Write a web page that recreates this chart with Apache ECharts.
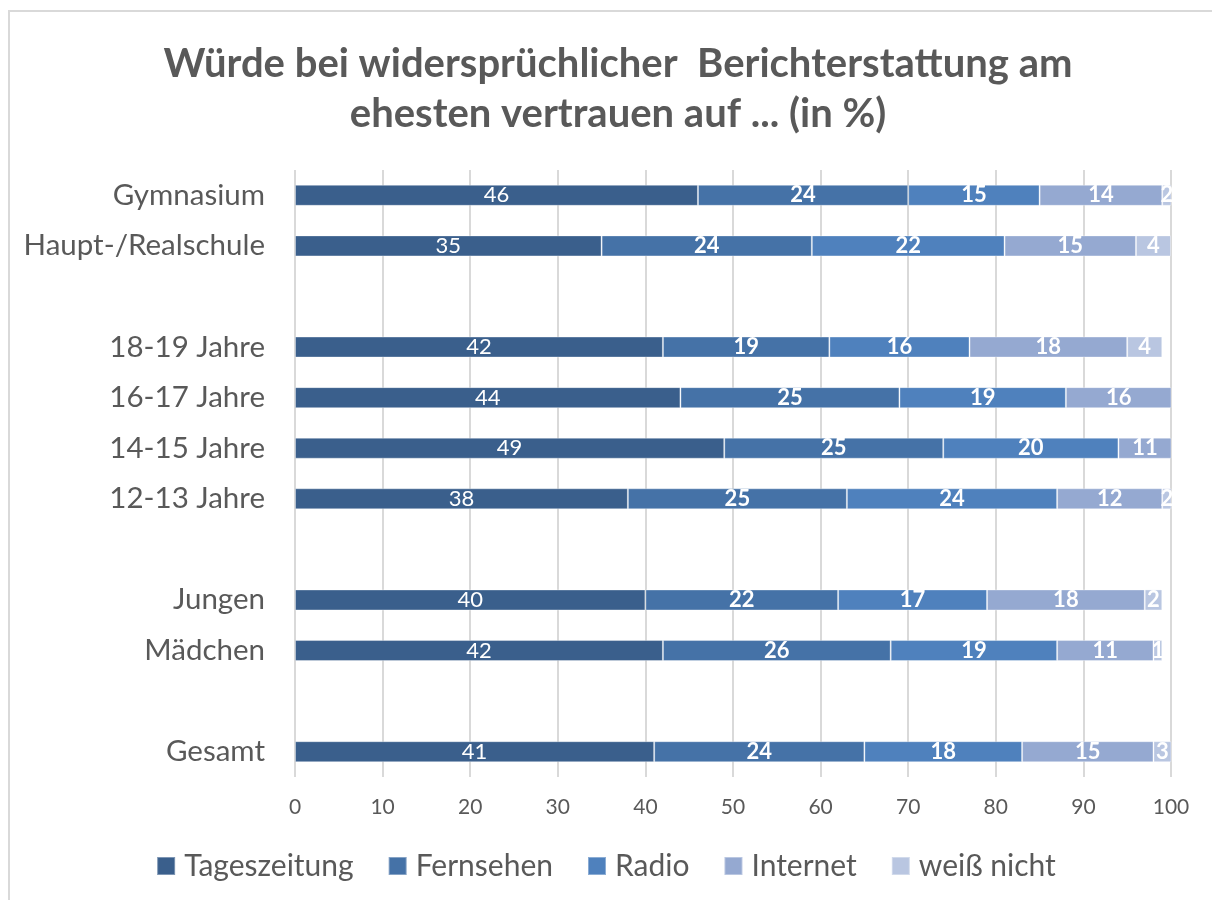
<!DOCTYPE html>
<html>
<head>
<meta charset="utf-8">
<script src="https://cdn.jsdelivr.net/npm/echarts@6/dist/echarts.min.js"></script>
<style>
html,body{margin:0;padding:0;background:#fff;}
#frame{position:absolute;left:8px;top:10px;width:1230px;height:920px;border:2px solid #d9d9d9;box-sizing:border-box;}
#chart{position:absolute;left:0;top:0;width:1212px;height:900px;}
</style>
</head>
<body>
<div id="frame"></div>
<div id="chart"></div>
<script>
const categories = ['Gymnasium','Haupt-/Realschule',' ','18-19 Jahre','16-17 Jahre','14-15 Jahre','12-13 Jahre','  ','Jungen','Mädchen','   ','Gesamt'];
const seriesNames = ['Tageszeitung','Fernsehen','Radio','Internet','weiß nicht'];
const tageszeitung = [46,35,null,42,44,49,38,null,40,42,null,41];
const fernsehen    = [24,24,null,19,25,25,25,null,22,26,null,24];
const radio        = [15,22,null,16,19,20,24,null,17,19,null,18];
const internet     = [14,15,null,18,16,11,12,null,18,11,null,15];
const weissNicht   = [2,4,null,4,null,null,2,null,2,1,null,3];
const xTicks = [0,10,20,30,40,50,60,70,80,90,100];
const colors = ['#3a5f8c','#4572a7','#4f81bd','#95a9d1','#b9c6e1'];

const values = [tageszeitung, fernsehen, radio, internet, weissNicht];
const chart = echarts.init(document.getElementById('chart'), null, {renderer:'canvas'});
const font = 'Lato, "Open Sans", sans-serif';
chart.setOption({
  animation:false,
  color:colors,
  title:{
    text:'Würde bei widersprüchlicher  Berichterstattung am\nehesten vertrauen auf ... (in %)',
    left:613, textAlign:'center', top:34,
    textStyle:{fontFamily:font, fontSize:40, fontWeight:'bold', color:'#595959', lineHeight:50}
  },
  legend:{
    bottom:14, left:'center',
    itemWidth:18, itemHeight:18, itemGap:34,
    icon:'rect',
    textStyle:{fontFamily:font, fontSize:30, color:'#595959', padding:[0,0,0,4]},
    data:seriesNames
  },
  grid:{left:295, right:41, top:170, bottom:123, containLabel:false},
  xAxis:{
    type:'value', min:0, max:100, interval:10,
    axisLine:{show:false}, axisTick:{show:false},
    splitLine:{show:true, lineStyle:{color:'#d9d9d9', width:2}},
    axisLabel:{fontFamily:font, fontSize:21, color:'#595959', margin:20,
      formatter:function(v){return xTicks.indexOf(v)>=0 ? String(v) : '';}}
  },
  yAxis:{
    type:'category', inverse:true, data:categories,
    axisLine:{show:false}, axisTick:{show:false},
    axisLabel:{fontFamily:font, fontSize:29.5, color:'#595959', margin:30}
  },
  series: seriesNames.map(function(name,i){
    return {
      name:name, type:'bar', stack:'total', barWidth:21,
      data:values[i],
      itemStyle:{color:colors[i], borderColor:'rgba(255,255,255,0.35)', borderWidth:1},
      label:{show:true, position:'inside', color:'#ffffff', fontFamily:font,
        fontSize:22, fontWeight: i===0 ? 'normal' : 'bold'}
    };
  })
});
</script>
</body>
</html>
